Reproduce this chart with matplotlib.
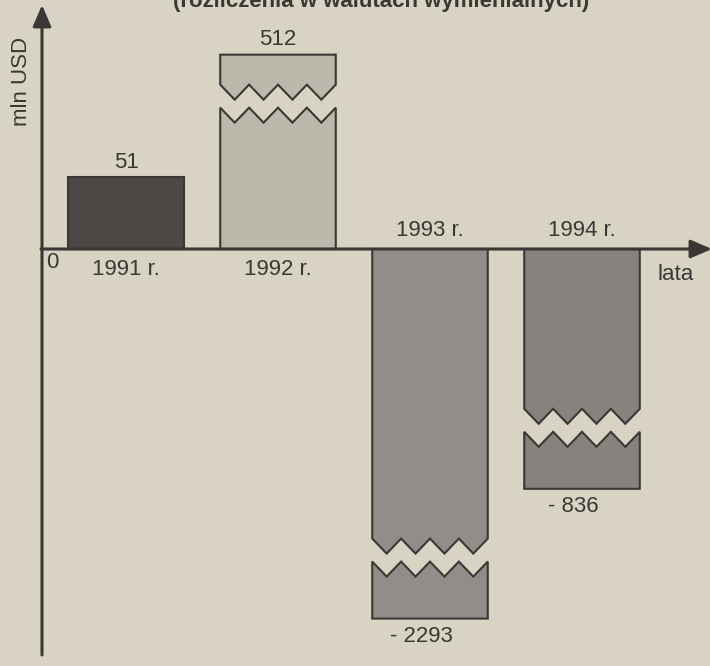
import matplotlib
matplotlib.use("Agg")
import matplotlib.pyplot as plt
from matplotlib.patches import Polygon
import numpy as np

plt.rcParams['font.family'] = ['Liberation Sans', 'DejaVu Sans']

# saldo w mln USD
years = ["1991 r.", "1992 r.", "1993 r.", "1994 r."]
balance = [51, 512, -2293, -836]
value_labels = ["51", "512", "- 2293", "- 836"]
title = "(rozliczenia w walutach wymienialnych)"

colors = ["#4b4845", "#bdb8ac", "#918d88", "#86827d"]
PAPER = "#d8d3c3"
INK = "#3a3835"

# the original is not to scale (broken bars) -> compressing power scale
A, P = 13.4, 0.4287


def fwd(v):
    v = np.asarray(v, float)
    return np.sign(v) * A * np.abs(v) ** P


def inv(t):
    t = np.asarray(t, float)
    return np.sign(t) * (np.abs(t) / A) ** (1 / P)


fig = plt.figure(figsize=(7.1, 6.66), dpi=100, facecolor=PAPER)
ax = fig.add_axes([0, 0, 1, 1])
ax.set_facecolor(PAPER)
ax.set_yscale('function', functions=(fwd, inv))
ax.set_xlim(-126 / 152, (710 - 126) / 152)
ax.set_ylim(inv(-417), inv(249))
ax.axis('off')

w = 0.76
amp, shift = 15, 23   # zigzag depth and gap (in scaled units)


def zig(x0, x1, level):
    xs = np.linspace(x0, x1, 9)
    ts = level - amp * np.array([0, 1, 0, 1, 0, 1, 0, 1, 0])
    return list(zip(xs, inv(ts)))


for i, v in enumerate(balance):
    x0, x1 = i - w / 2, i + w / 2
    tip = float(fwd(v))
    if abs(v) < 100:
        ax.bar(i, v, width=w, color=colors[i], edgecolor=INK, lw=1.5, zorder=2)
        continue
    if v > 0:
        hi = tip - 30
        near = [(x0, 0), (x1, 0)] + zig(x0, x1, hi - shift)[::-1]
        far = zig(x0, x1, hi) + [(x1, v), (x0, v)]
    else:
        hi = tip + 80
        near = [(x0, 0)] + zig(x0, x1, hi) + [(x1, 0)]
        far = zig(x0, x1, hi - shift) + [(x1, v), (x0, v)]
    for pts in (near, far):
        ax.add_patch(Polygon(pts, closed=True, facecolor=colors[i],
                             edgecolor=INK, lw=1.5, zorder=2))

fs = 16
for i, v in enumerate(balance):
    if v > 0:
        ax.annotate(value_labels[i], (i, v), xytext=(0, 3), textcoords='offset points',
                    ha='center', va='bottom', fontsize=fs, color=INK)
        ax.annotate(years[i], (i, 0), xytext=(0, -7), textcoords='offset points',
                    ha='center', va='top', fontsize=fs, color=INK)
    else:
        ax.annotate(value_labels[i], (i, v), xytext=(-6, -5), textcoords='offset points',
                    ha='center', va='top', fontsize=fs, color=INK)
        ax.annotate(years[i], (i, 0), xytext=(0, 6), textcoords='offset points',
                    ha='center', va='bottom', fontsize=fs, color=INK)

# axes with arrows
arrow = dict(arrowstyle='-|>,head_length=0.65,head_width=0.28', lw=2.2,
             color=INK, mutation_scale=20, shrinkA=0, shrinkB=0)
ax.annotate('', xy=(42, 661), xytext=(42, 11), xycoords='figure pixels',
            textcoords='figure pixels', arrowprops=arrow, zorder=5)
ax.annotate('', xy=(712, 417), xytext=(41, 417), xycoords='figure pixels',
            textcoords='figure pixels', arrowprops=arrow, zorder=5)

fig.text(52 / 710, 404 / 666, "0", ha='center', va='center', fontsize=fs, color=INK)
fig.text(676 / 710, 391 / 666, "lata", ha='center', va='center', fontsize=fs, color=INK)
fig.text(22 / 710, 585 / 666, "mln USD", rotation=90, ha='center', va='center',
         fontsize=fs, color=INK)
fig.text(381 / 710, 659 / 666, title, ha='center', va='baseline', fontsize=16,
         fontweight='bold', color=INK)

fig.savefig("out.png", dpi=100, facecolor=PAPER)
